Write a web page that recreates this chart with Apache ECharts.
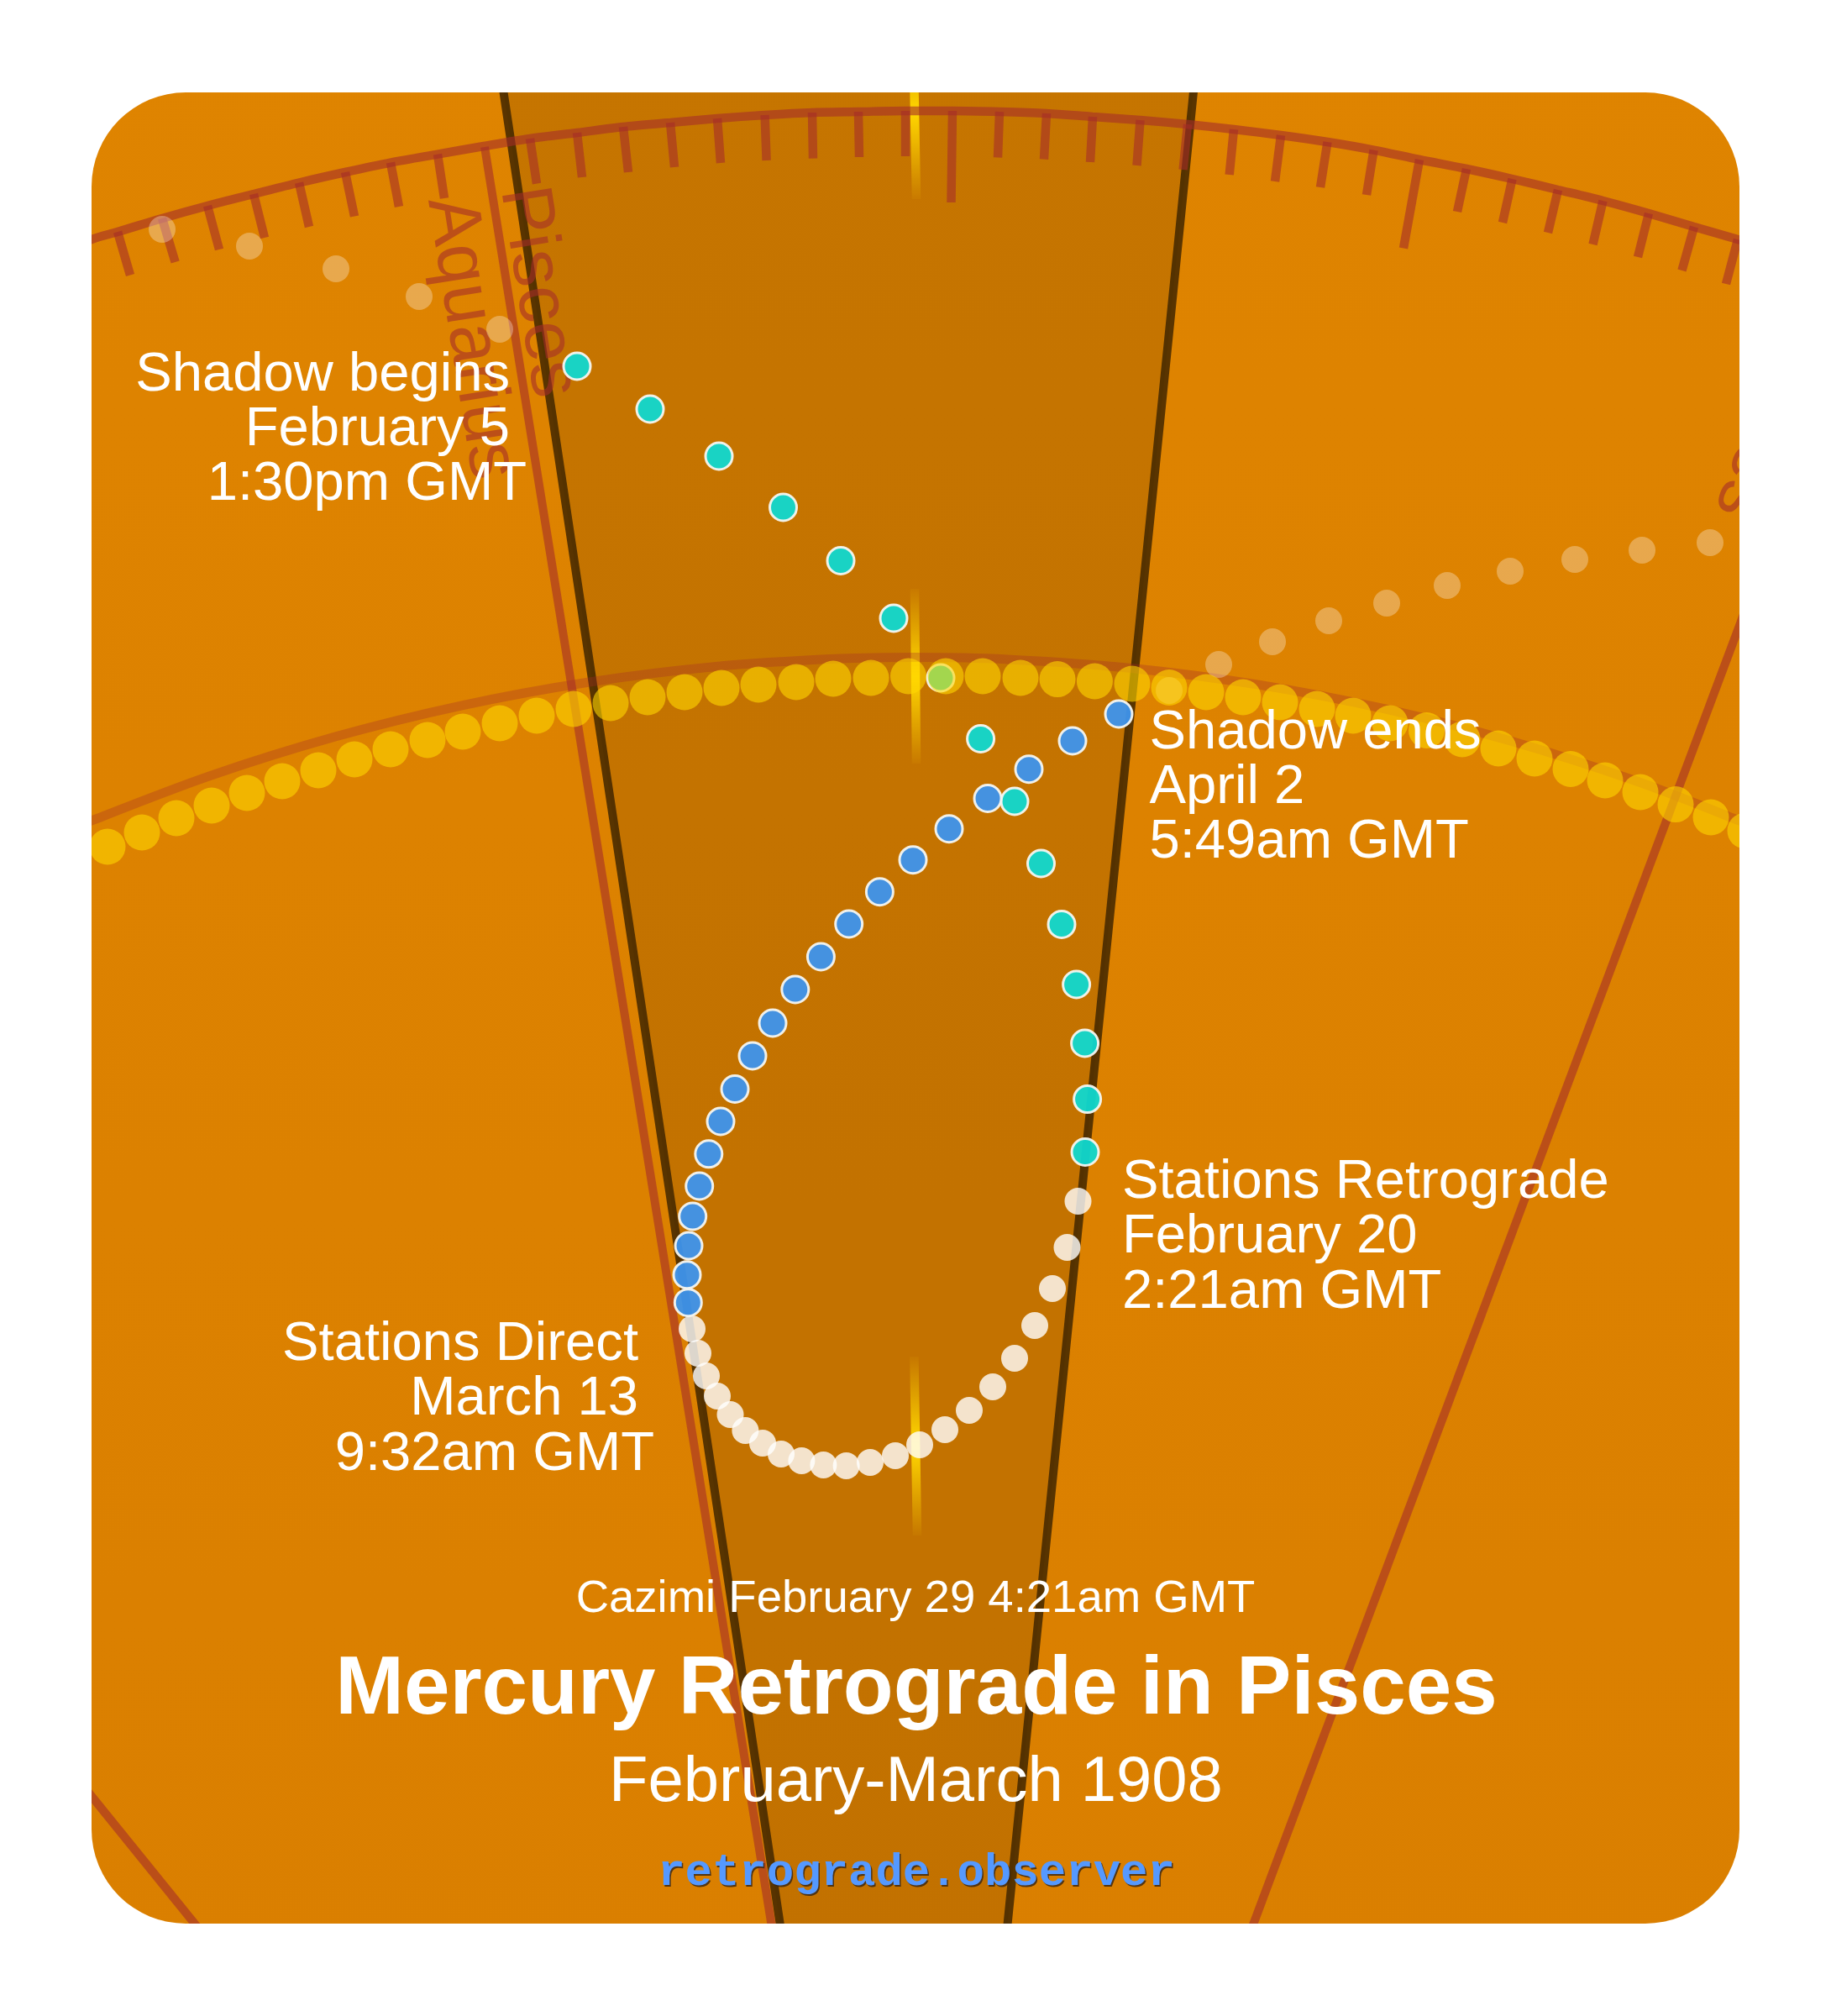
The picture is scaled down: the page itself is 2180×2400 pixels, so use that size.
<!DOCTYPE html>
<html>
<head>
<meta charset="utf-8">
<style>
html,body{margin:0;padding:0;background:#fff;}
#chart{width:2180px;height:2400px;background:linear-gradient(#DF8400,#DA7F00);clip-path:inset(110px 109px 110px 109px round 112px);}
</style>
<script src="https://cdn.jsdelivr.net/npm/echarts@6/dist/echarts.min.js"></script>
</head>
<body>
<div id="chart"></div>
<script>
// Shaded Mercury-retrograde sector (corner points of the band)
const shadowBand = [[592,60],[1426,60],[1194,2345],[937,2345]];

// Zodiac sign boundaries
const signBoundaries = [
  [577,175,928,2350],
  [2224,336,1470,2350],
  [40,2053,260,2325]
];

// Degree ring: outer arc
const outerArc = [[90,294],[109,285],[140,276],[193,260],[247,245],[302,231],[356,217.5],[411,205],[465,193.6],[521,183.6],[576,174],[631,165],[687,158],[742,151],[798,146],[854,141],[910.6,137],[967,134],[1022,133],[1078,132],[1134,132],[1190,133],[1246,135],[1301,139],[1357.5,143],[1414,148],[1469,154],[1525,161],[1580.5,169],[1635.6,178.6],[1690,190],[1746,201],[1800.5,213],[1855,226],[1908.5,239],[1963,254],[2017,270],[2069,285],[2110,297]];

// Degree ticks: x1,y1,x2,y2
const degreeTicks = [
  [140,276,155,327.5],[193,260,208.6,312],[247,245,261,297],[302,231,315,283],[356,217.5,368,270],[411,205,422,257.5],[465,193.6,475,246],[521,183.6,529,236],
  [631,165,639,218.6],[687,158,693,211],[742,151,748,205],[798,146,803,199],[854,141,858,194],
  [910.6,137,912.6,191],[967,134,968,188.6],[1022,133,1023,187],[1078,132,1078,186],[1134,132,1132.5,241],[1190,133,1188,187.5],[1246,135,1243,189.6],[1301,139,1298,193],[1357.5,143,1353.5,197],[1414,148,1408.6,202],[1469,154,1463.7,208],[1525,161,1518,216],[1580.5,169,1572,223],[1635.6,178.6,1627,232],
  [1690,190,1671,295.5],[1746,201,1735,252],[1800.5,213,1789,265],[1855,226,1843,277],[1908.5,239,1896.5,291],[1963,254,1950,306],[2017,270,2002.5,322],[2069,285,2055,338]
];

// Ecliptic arc through the Sun's path
const eclipticArc = [[60,997.8],[109,977],[250,923.6],[400,876.8],[550,839.8],[700,812.2],[850,793.7],[1000,784.1],[1090,782.5],[1200,784.9],[1350,795.7],[1500,815.4],[1650,844.2],[1800,882.5],[1950,930.5],[2071,977],[2120,997.8]];

// Sun glints: x1,y1,x2,y2
const sunGlints = [[1087,29,1091,237],[1089,701,1091,909],[1088.4,1615,1092,1828]];

// Daily positions
const sunPath = [[128,1008],[169,991],[210,974],[252,959],[294,944],[336,930],[379,917],[422,904],[465,892],[509,881],[551,871],[595,861],[639,852],[683,844],[727,837],[771,830],[815,824],[859,819],[903,815],[948,812],[992,808],[1037,807],[1081.5,805],[1126,805],[1170,805],[1215,807],[1259,808.6],[1303.4,811],[1348,814],[1392,818.5],[1436,824],[1480,830],[1524,836],[1568,844],[1611,852],[1655,861],[1698.5,869.5],[1741,880],[1784,891],[1827,903],[1870,915.5],[1911,929],[1953,943],[1995,957.6],[2037,973],[2078,989]];
const mercuryBefore = [[193,273],[297,293],[400,320],[499,353],[595,392]];
const mercuryAfter = [[1392,822],[1451,791],[1515,764],[1582,739],[1651,718],[1723,697],[1798,680],[1875,666],[1955,655],[2036,646]];
const mercuryPreShadow = [[687,436],[774,487],[856,543],[932.5,604],[1001,667.5],[1064,736],[1120,807],[1167.6,879.5],[1208,954],[1239.5,1028],[1264,1100.5],[1281.6,1172],[1291.6,1242],[1294.6,1308.6],[1292,1371.5]];
const mercuryRetrograde = [[1283.5,1430],[1270.5,1485],[1253,1534],[1232,1578],[1208,1617],[1182,1651],[1154,1679],[1125,1702],[1095,1720],[1066,1733],[1036,1741],[1007.6,1745],[980.4,1744],[954.4,1739],[930,1731],[908,1718],[887.4,1703],[869.5,1684],[854,1662],[841,1638],[831,1611],[824,1582]];
const mercuryPostShadow = [[819.3,1550.7],[818,1517.7],[820,1483],[824.7,1448],[832.7,1412],[843.8,1373.8],[858,1335],[875,1296.5],[896,1257],[920,1218],[946.8,1178],[977.4,1139],[1010.7,1100],[1047.4,1061.7],[1087,1023.7],[1130,986.7],[1176,950.5],[1225,915.7],[1277,882],[1332,850]];

// Texts
const signLabels = [
  {t:'Aquarius',x:511,y:238,deg:81},
  {t:'Pisces',x:598,y:226,deg:81},
  {t:'Pisces',x:2131,y:370,deg:110.5}
];
const eventLabels = [
  {t:'Shadow begins',x:607,y:464,a:'right'},
  {t:'February 5',x:607,y:529,a:'right'},
  {t:'1:30pm GMT',x:627,y:594,a:'right'},
  {t:'Shadow ends',x:1368.5,y:890,a:'left'},
  {t:'April 2',x:1368.5,y:955,a:'left'},
  {t:'5:49am GMT',x:1368.5,y:1020.5,a:'left'},
  {t:'Stations Retrograde',x:1336,y:1425.7,a:'left'},
  {t:'February 20',x:1336,y:1490.7,a:'left'},
  {t:'2:21am GMT',x:1336,y:1556.5,a:'left'},
  {t:'Stations Direct',x:760,y:1618,a:'right'},
  {t:'March 13',x:760,y:1683,a:'right'},
  {t:'9:32am GMT',x:779,y:1749,a:'right'}
];
const cazimiText = 'Cazimi February 29 4:21am GMT';
const titleText = 'Mercury Retrograde in Pisces';
const subtitleText = 'February-March 1908';
const siteText = 'retrograde.observer';

const RED = 'rgba(165,45,40,0.6)';
const SANS = '"Liberation Sans", Arial, Helvetica, sans-serif';
const MIDDLE = 0.265;
const SIGN_SIZE = 86;

function txt(t, x, y, size, align, extra) {
  return Object.assign({
    type:'text', x:x, y:y, z:20, silent:true,
    style:Object.assign({text:t, x:0, y:-MIDDLE*size, fill:'#fff', font:'normal '+size+'px '+SANS, align:align, verticalAlign:'middle'}, extra||{})
  });
}
const graphics = [];
signLabels.forEach(function(l){
  graphics.push({type:'text', x:l.x, y:l.y, z:3, rotation:-l.deg*Math.PI/180, silent:true,
    style:{text:l.t, x:0, y:-MIDDLE*SIGN_SIZE, fill:RED, font:'normal '+SIGN_SIZE+'px '+SANS, align:'left', verticalAlign:'middle'}});
});
eventLabels.forEach(function(l){ graphics.push(txt(l.t,l.x,l.y,65.2,l.a)); });
graphics.push(txt(cazimiText,1090,1918,54.5,'center'));
const titleEl = txt(titleText,1091,2039,98,'center'); titleEl.style.font='bold 98px '+SANS; graphics.push(titleEl);
graphics.push(txt(subtitleText,1090.5,2143,76,'center'));
const siteFont = 'bold 54px "Liberation Mono", "Courier New", monospace';
const siteShadow = txt(siteText,1092.5,2246.5,54,'center',{fill:'rgba(60,40,20,0.85)',font:siteFont});
const siteEl = txt(siteText,1091,2245,54,'center',{fill:'#5599FF',font:siteFont});
graphics.push(siteShadow, siteEl);

function segSeries(data, z, styleFn) {
  return {type:'custom', coordinateSystem:'cartesian2d', z:z, silent:true, clip:false,
    data:data,
    encode:{x:[0,2], y:[1,3]},
    renderItem:function(params, api){
      const a = api.coord([api.value(0),api.value(1)]);
      const b = api.coord([api.value(2),api.value(3)]);
      return {type:'line', shape:{x1:a[0],y1:a[1],x2:b[0],y2:b[1]}, style:styleFn()};
    }};
}
function scatter(data, z, size, item) {
  return {type:'scatter', z:z, silent:true, data:data, symbolSize:size, itemStyle:Object.assign({opacity:1},item), clip:false};
}
function arc(data, z, color, width) {
  return {type:'line', z:z, silent:true, data:data, smooth:0.3, showSymbol:false, symbol:'none', clip:false,
    lineStyle:{color:color, width:width, cap:'butt'}};
}

const glintStops = {type:'linear',x:0,y:0,x2:0,y2:1,colorStops:[
  {offset:0,color:'rgba(255,215,0,0)'},{offset:0.5,color:'rgba(255,215,0,1)'},{offset:1,color:'rgba(255,215,0,0)'}]};

const option = {
  animation:false,
  backgroundColor:'transparent',
  grid:{left:0,right:0,top:0,bottom:0,containLabel:false},
  xAxis:{type:'value',min:0,max:2180,show:false},
  yAxis:{type:'value',min:0,max:2400,inverse:true,show:false},
  graphic:{elements:graphics},
  series:[
    {type:'custom', coordinateSystem:'cartesian2d', z:1, silent:true, clip:false,
      data:shadowBand, encode:{x:0,y:1},
      renderItem:function(params, api){
        if(params.dataIndex!==0) return null;
        const pts = shadowBand.map(function(p){return api.coord(p);});
        return {type:'polygon', shape:{points:pts}, style:{fill:'rgba(0,0,0,0.11)', stroke:'rgba(55,33,0,0.8)', lineWidth:10}};
      }},
    segSeries(sunGlints,2,function(){return {stroke:glintStops,lineWidth:10.5,fill:null};}),
    segSeries(signBoundaries,3,function(){return {stroke:RED,lineWidth:10,fill:null};}),
    segSeries(degreeTicks,3,function(){return {stroke:RED,lineWidth:10.5,fill:null};}),
    arc(outerArc,3,RED,10.5),
    arc(eclipticArc,3,'rgba(165,45,40,0.32)',11),
    scatter(mercuryBefore,4,32,{color:'rgba(255,255,255,0.3)'}),
    scatter(mercuryAfter,4,32,{color:'rgba(255,255,255,0.3)'}),
    scatter(mercuryPreShadow,5,32,{color:'#0FD8CF',borderColor:'#F5F5F0',borderWidth:3,opacity:0.95}),
    scatter(mercuryRetrograde,5,32,{color:'rgba(255,255,255,0.8)'}),
    scatter(mercuryPostShadow,5,32,{color:'#3D93EC',borderColor:'#F5F5F0',borderWidth:3,opacity:0.95}),
    scatter(sunPath,6,43,{color:'rgba(255,215,0,0.6)'})
  ]
};
const chart = echarts.init(document.getElementById('chart'), null, {renderer:'canvas', width:2180, height:2400});
chart.setOption(option);
</script>
</body>
</html>
